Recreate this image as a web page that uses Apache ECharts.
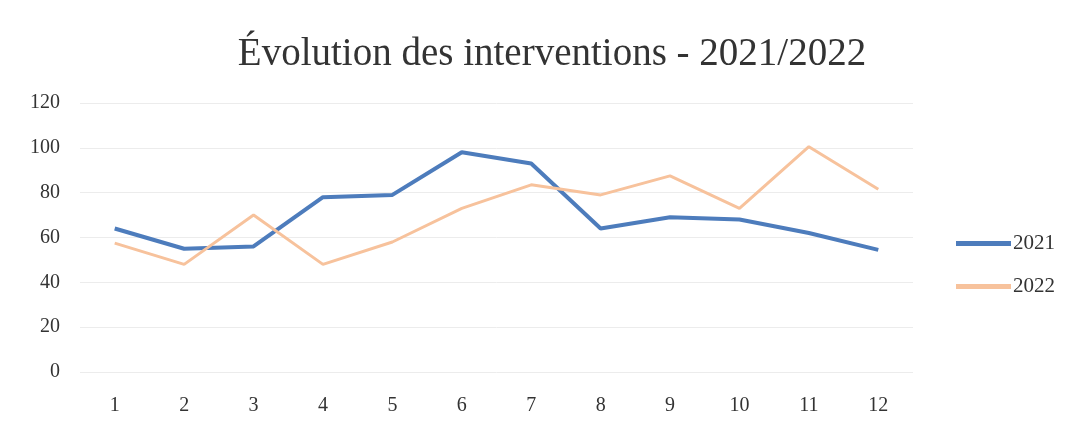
<!DOCTYPE html>
<html>
<head>
<meta charset="utf-8">
<script src="https://cdn.jsdelivr.net/npm/echarts@6/dist/echarts.min.js"></script>
<style>
  html, body { margin: 0; padding: 0; background: #fff; }
  #chart { width: 1086px; height: 434px; }
</style>
</head>
<body>
<div id="chart"></div>
<script>
// data
const months = ['1', '2', '3', '4', '5', '6', '7', '8', '9', '10', '11', '12']
const values2021 = [64, 55, 56, 78, 79, 98, 93, 64, 69, 68, 62, 54.5]
const values2022 = [57.5, 48, 70, 48, 58, 73, 83.5, 79, 87.5, 73, 100.5, 81.5]
const yTicks = [0, 20, 40, 60, 80, 100, 120]

const serif = '"Liberation Serif", "DejaVu Serif", serif'

const chart = echarts.init(document.getElementById('chart'))

chart.setOption({
  animation: false,
  backgroundColor: '#fff',
  title: {
    text: 'Évolution des interventions - 2021/2022',
    left: 547,
    top: 30,
    textAlign: 'center',
    textStyle: { fontFamily: serif, fontWeight: 'normal', fontSize: 39, color: '#333' },
  },
  legend: {
    orient: 'vertical',
    left: 951,
    top: 228,
    itemGap: 22,
    itemWidth: 55,
    itemHeight: 5,
    icon: 'path://M0,0 L55,0 L55,5 L0,5 Z',
    textStyle: { fontFamily: serif, fontSize: 21, color: '#333', padding: [0, 0, 0, -3] },
    data: ['2021', '2022'],
  },
  grid: { left: 80, right: 173, top: 103, bottom: 62 },
  xAxis: {
    type: 'category',
    data: months,
    boundaryGap: true,
    axisLine: { show: false },
    axisTick: { show: false },
    axisLabel: { margin: 24, fontFamily: serif, fontSize: 20, color: '#333' },
  },
  yAxis: {
    type: 'value',
    min: yTicks[0],
    max: yTicks[yTicks.length - 1],
    interval: 20,
    axisLine: { show: false },
    axisTick: { show: false },
    axisLabel: { margin: 20, fontFamily: serif, fontSize: 20, color: '#333' },
    splitLine: { lineStyle: { color: '#ececec', width: 1 } },
  },
  series: [
    {
      name: '2021',
      type: 'line',
      data: values2021,
      symbol: 'none',
      itemStyle: { color: '#4d7cbc' },
      lineStyle: { color: '#4d7cbc', width: 4 },
    },
    {
      name: '2022',
      type: 'line',
      data: values2022,
      symbol: 'none',
      itemStyle: { color: '#f7c29c' },
      lineStyle: { color: '#f7c29c', width: 3 },
    },
  ],
})
</script>
</body>
</html>
